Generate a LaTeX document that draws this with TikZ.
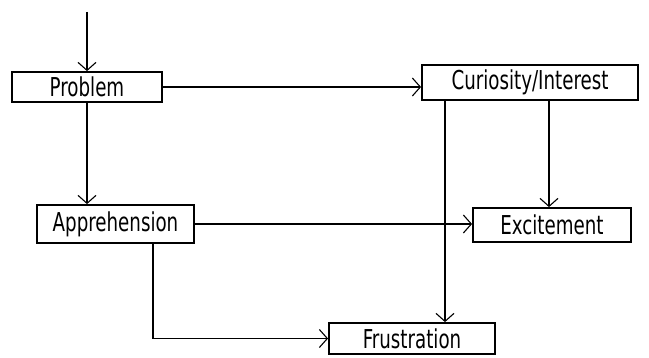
\documentclass[tikz,border=0pt]{standalone}
\usepackage{fontspec}
\setmainfont{DejaVu Sans Condensed}[FakeStretch=0.78]
\usetikzlibrary{arrows.meta}
\begin{document}
\begin{tikzpicture}[x=1pt,y=-1pt,
  box/.style={draw,line width=1.8pt,rectangle,inner sep=0pt,font=\fontsize{26}{26}\selectfont},
  conn/.style={line width=1.3pt,-{Straight Barb[length=8pt,width=18pt,line width=1.1pt]}}]
\useasboundingbox (0,0) rectangle (649,358);
\node[box,minimum width=150pt,minimum height=30pt] (prob) at (87,87) {Problem};
\node[box,minimum width=216pt,minimum height=35pt] (cur) at (530,82.5) {Curiosity/Interest};
\node[box,minimum width=157pt,minimum height=38pt] (app) at (115.5,224) {Apprehension};
\node[box,minimum width=158pt,minimum height=34pt] (exc) at (552,225) {Excitement};
\node[box,minimum width=166pt,minimum height=31pt] (fru) at (412,338.5) {Frustration};
\coordinate (start) at (87,12);
\draw[conn] (start) -- (prob.north);
\draw[conn] (prob.east) -- (prob.east -| cur.west);
\draw[conn] (prob.south) -- (prob.south |- app.north);
\draw[conn] (cur.south -| 445,0) -- (fru.north -| 445,0);
\draw[conn] (cur.south -| 549,0) -- (exc.north -| 549,0);
\draw[conn] (app.east) -- (app.east -| exc.west);
\draw[conn] (app.south -| 153,0) |- (fru.west);
\end{tikzpicture}
\end{document}
